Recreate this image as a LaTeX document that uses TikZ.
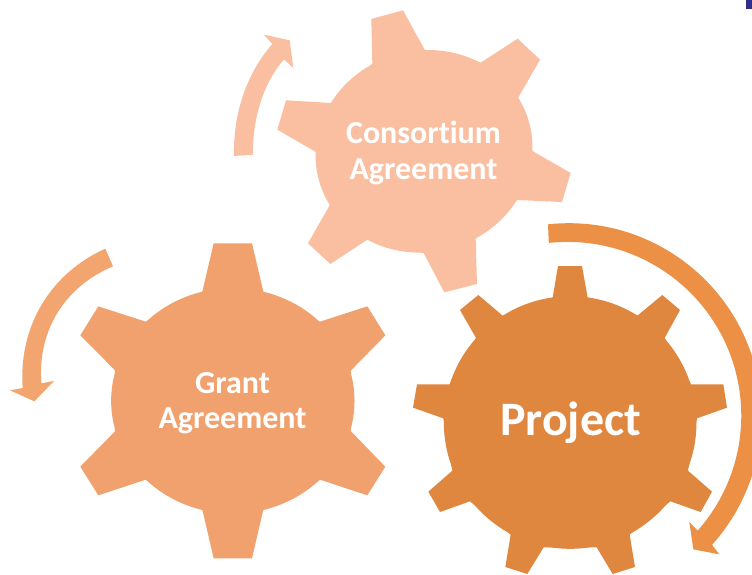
\documentclass[tikz,border=0pt]{standalone}
\usepackage{fontspec}
\setmainfont[Ligatures=NoCommon]{Carlito}
\definecolor{lightgear}{HTML}{F9BFA0}
\definecolor{midgear}{HTML}{F1A16E}
\definecolor{darkgear}{HTML}{E0873F}
\definecolor{bigarrow}{HTML}{EC9045}
\definecolor{midarrow}{HTML}{F3A56F}
\definecolor{cornerblue}{HTML}{2E2E8B}
\tikzset{
  gearlabel/.style={text=white,align=center,font=\bfseries\fontsize{32}{35.5}\selectfont,inner sep=0pt},
  bigzoom/.style={x=0.33333pt,y=-0.33333pt}
}
\begin{document}
\begin{tikzpicture}[x=1pt,y=-1pt]
\useasboundingbox (0,0) rectangle (752,574);
\fill[white] (0,0) rectangle (752,574);
\fill[cornerblue] (746,0) rectangle (752,9);
% Consortium gear and its arrow
\begin{scope}[shift={(220,0)},bigzoom]
\fill[lightgear] (612,454) ellipse[x radius=109pt,y radius=100.7pt,rotate=15];
\fill[lightgear] (454,57)--(549,31)--(614,149)--(782,188)--(893,116)--(960,179)--(894,294)--(937,453)--(1052,519)--(1026,606)--(891,600)--(767,716)--(771,852)--(673,877)--(611,759)--(442,719)--(331,792)--(264,730)--(330,614)--(288,456)--(172,389)--(198,301)--(333,309)--(457,191)--cycle;
\fill[lightgear] (42,468) .. controls (39,345) and (78,222) .. (157,132) -- (132,104) -- (209,121) -- (220,204) -- (192,178) .. controls (126,253) and (97,364) .. (99,464) -- cycle;
\end{scope}
% Grant gear and its arrow
\begin{scope}[shift={(0,230)},bigzoom]
\fill[midgear] (698.5,512.5) ellipse[x radius=121.7pt,y radius=112.7pt];
\fill[midgear] (641,40)--(756,40)--(790,185)--(960,275)--(1102,229)--(1156,316)--(1053,421)--(1053,604)--(1156,710)--(1102,796)--(960,749)--(790,839)--(756,985)--(641,985)--(607,839)--(437,749)--(295,796)--(241,710)--(345,604)--(345,421)--(241,316)--(295,229)--(437,275)--(607,185)--cycle;
\fill[midarrow] (316,56) .. controls (150,131) and (55,290) .. (68,474) -- (30,481) -- (103,514) -- (162,453) -- (124,460) .. controls (112,300) and (195,170) .. (339,109) -- cycle;
\end{scope}
% Project gear and its arrow
\begin{scope}[shift={(400,220)},bigzoom]
\fill[darkgear] (510.5,607.5) circle[radius=126.3pt];
\fill[darkgear] (474,138)--(546,138)--(563,233)--(712,287)--(787,225)--(840,270)--(794,354)--(873,493)--(970,493)--(981,563)--(891,595)--(864,752)--(936,815)--(902,876)--(811,844)--(689,944)--(705,1041)--(638,1062)--(590,982)--(431,982)--(382,1062)--(316,1041)--(332,944)--(210,844)--(120,876)--(85,815)--(157,752)--(130,595)--(39,563)--(51,493)--(149,493)--(228,354)--(180,270)--(235,225)--(308,287)--(458,233)--cycle;
\fill[bigarrow] (444,13) arc[start angle=96.2,end angle=-42,radius=192.7pt] -- (958,1003) -- (880,988) -- (868,906) -- (893,932) arc[start angle=-41.5,end angle=96.2,radius=173.7pt] -- cycle;
\end{scope}
\node[gearlabel] (consortium) at (423.5,153) {Consortium\\Agreement};
\node[gearlabel] (grant) at (232.5,403) {Grant\\Agreement};
\node[gearlabel,font=\bfseries\fontsize{48}{50}\selectfont] (project) at (570.5,423) {Project};
\end{tikzpicture}
\end{document}
